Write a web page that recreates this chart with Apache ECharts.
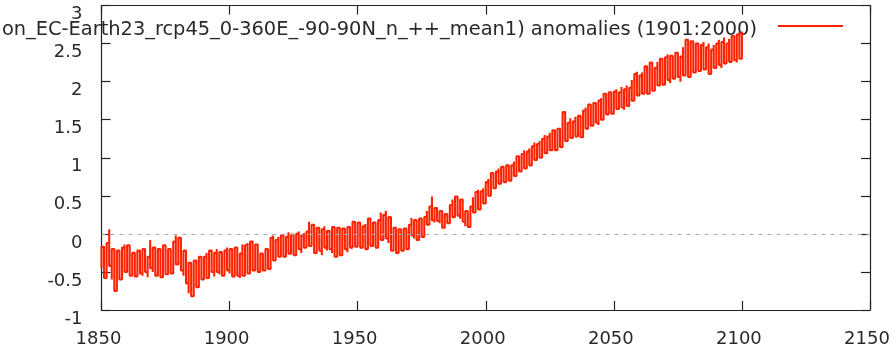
<!DOCTYPE html>
<html>
<head>
<meta charset="utf-8">
<script src="https://cdn.jsdelivr.net/npm/echarts@6/dist/echarts.min.js"></script>
<style>
  html, body { margin: 0; padding: 0; background: #fff; }
  #chart { width: 893px; height: 355px; }
</style>
</head>
<body>
<div id="chart"></div>
<script>
// annual anomaly envelope (upper / lower edge of the monthly values), 1850..2100
var startYear = 1850;
var xTicks = [1850, 1900, 1950, 2000, 2050, 2100, 2150];
var yTicks = [-1, -0.5, 0, 0.5, 1, 1.5, 2, 2.5, 3];
var seriesName = 'on_EC-Earth23_rcp45_0-360E_-90-90N_n_++_mean1) anomalies (1901:2000)';

var upper = [
  -0.17, -0.2, -0.12, 0.06, -0.2, -0.25, -0.22, -0.3, -0.18, -0.14,   // 1850s
  -0.15, -0.2, -0.25, -0.28, -0.22, -0.27, -0.2, -0.24, -0.3, -0.08,  // 1860s
  -0.18, -0.25, -0.2, -0.22, -0.15, -0.25, -0.2, -0.18, -0.1, -0.02,  // 1870s
  -0.05, -0.12, -0.22, -0.3, -0.38, -0.42, -0.35, -0.33, -0.3, -0.35, // 1880s
  -0.3, -0.25, -0.22, -0.2, -0.25, -0.2, -0.24, -0.28, -0.22, -0.18,  // 1890s
  -0.2, -0.25, -0.18, -0.22, -0.26, -0.14, -0.15, -0.12, -0.1, -0.12, // 1900s
  -0.14, -0.2, -0.26, -0.24, -0.2, -0.22, -0.05, -0.02, -0.08, -0.04, // 1910s
  -0.02, 0.0, -0.04, 0.02, -0.01, -0.03, 0.0, 0.03, -0.02, 0.01,      // 1920s
  0.03, 0.16, 0.12, 0.05, 0.08, 0.02, 0.06, 0.1, 0.04, 0.01,          // 1930s
  0.09, 0.05, 0.08, 0.02, 0.07, 0.04, 0.09, 0.06, 0.16, 0.12,         // 1940s
  0.15, 0.08, 0.1, 0.13, 0.2, 0.1, 0.15, 0.12, 0.18, 0.28,            // 1950s
  0.25, 0.3, 0.22, 0.05, 0.08, 0.03, 0.06, 0.02, 0.07, 0.04,          // 1960s
  0.12, 0.21, 0.18, 0.15, 0.2, 0.16, 0.22, 0.3, 0.36, 0.49,           // 1970s
  0.34, 0.32, 0.3, 0.22, 0.26, 0.28, 0.38, 0.45, 0.49, 0.47,          // 1980s
  0.45, 0.42, 0.3, 0.28, 0.36, 0.48, 0.55, 0.58, 0.56, 0.6,           // 1990s
  0.68, 0.72, 0.8, 0.78, 0.82, 0.86, 0.88, 0.85, 0.9, 0.92,           // 2000s
  0.9, 0.95, 1.02, 1.0, 1.05, 1.1, 1.08, 1.12, 1.15, 1.2,             // 2010s
  1.18, 1.22, 1.25, 1.3, 1.28, 1.33, 1.36, 1.32, 1.38, 1.4,           // 2020s
  1.6, 1.5, 1.46, 1.52, 1.48, 1.54, 1.55, 1.5, 1.62, 1.66,            // 2030s
  1.7, 1.64, 1.72, 1.68, 1.75, 1.78, 1.84, 1.8, 1.86, 1.82,           // 2040s
  1.87, 1.9, 1.86, 1.93, 1.9, 1.95, 1.92, 2.02, 2.1, 2.13,            // 2050s
  2.08, 2.12, 2.2, 2.15, 2.25, 2.22, 2.18, 2.26, 2.3, 2.28,           // 2060s
  2.32, 2.36, 2.34, 2.3, 2.38, 2.35, 2.33, 2.45, 2.55, 2.5,           // 2070s
  2.53, 2.46, 2.5, 2.44, 2.48, 2.52, 2.45, 2.5, 2.42, 2.48,           // 2080s
  2.5, 2.55, 2.52, 2.58, 2.5, 2.56, 2.6, 2.55, 2.62, 2.65,            // 2090s
  2.66                                                                // 2100
];
var lower = [
  -0.45, -0.58, -0.5, -0.42, -0.6, -0.75, -0.72, -0.6, -0.55, -0.5,
  -0.52, -0.55, -0.5, -0.56, -0.48, -0.52, -0.55, -0.5, -0.57, -0.45,
  -0.5, -0.55, -0.52, -0.57, -0.5, -0.53, -0.48, -0.52, -0.45, -0.4,
  -0.42, -0.48, -0.55, -0.65, -0.78, -0.82, -0.72, -0.7, -0.66, -0.6,
  -0.6, -0.58, -0.52, -0.5, -0.56, -0.5, -0.53, -0.55, -0.5, -0.48,
  -0.52, -0.56, -0.5, -0.55, -0.58, -0.55, -0.57, -0.52, -0.5, -0.48,
  -0.45, -0.5, -0.52, -0.48, -0.5, -0.46, -0.4, -0.35, -0.3, -0.3,
  -0.25, -0.3, -0.22, -0.26, -0.2, -0.28, -0.22, -0.2, -0.25, -0.18,
  -0.2, -0.16, -0.18, -0.25, -0.2, -0.22, -0.28, -0.18, -0.22, -0.2,
  -0.25, -0.3, -0.22, -0.28, -0.26, -0.2, -0.24, -0.18, -0.15, -0.17,
  -0.14, -0.18, -0.15, -0.2, -0.1, -0.16, -0.12, -0.18, -0.1, -0.08,
  -0.1, -0.06, -0.12, -0.22, -0.18, -0.25, -0.2, -0.22, -0.16, -0.2,
  -0.05, -0.02, -0.06, -0.08, -0.03, -0.04, 0.0, 0.12, 0.16, 0.18,
  0.15, 0.17, 0.14, 0.08, 0.12, 0.14, 0.18, 0.22, 0.2, 0.24,
  0.2, 0.16, 0.1, 0.09, 0.14, 0.28, 0.34, 0.32, 0.36, 0.4,
  0.46, 0.5, 0.55, 0.6, 0.64, 0.66, 0.7, 0.68, 0.72, 0.7,
  0.72, 0.76, 0.8, 0.82, 0.84, 0.86, 0.88, 0.9, 0.94, 0.97,
  0.98, 1.0, 1.02, 1.06, 1.08, 1.1, 1.12, 1.1, 1.15, 1.14,
  1.2, 1.22, 1.2, 1.26, 1.24, 1.28, 1.3, 1.27, 1.33, 1.38,
  1.4, 1.42, 1.44, 1.46, 1.43, 1.5, 1.55, 1.57, 1.6, 1.58,
  1.6, 1.64, 1.62, 1.66, 1.63, 1.68, 1.66, 1.75, 1.8, 1.82,
  1.8, 1.84, 1.86, 1.84, 1.9, 1.88, 1.92, 1.95, 1.98, 1.96,
  2.0, 2.02, 1.98, 2.04, 2.02, 2.06, 2.0, 2.08, 2.1, 2.06,
  2.08, 2.12, 2.1, 2.14, 2.12, 2.16, 2.14, 2.1, 2.15, 2.18,
  2.2, 2.22, 2.18, 2.24, 2.22, 2.26, 2.24, 2.28, 2.25, 2.3,
  2.32
];

var textColor = '#2a2a2a';
var frameColor = '#222';
var lineColor = '#ff2200';

// histeps-like path: a vertical stroke per year across its range, stepping year to year
var pathData = [];
for (var i = 0; i < upper.length; i++) {
  var yr = startYear + i;
  if (i % 2 == 0) {
    pathData.push([yr, lower[i]], [yr, upper[i]]);
  } else {
    pathData.push([yr, upper[i]], [yr, lower[i]]);
  }
}

var xMin = xTicks[0], xMax = xTicks[xTicks.length - 1], xStep = xTicks[1] - xTicks[0];
var yMin = yTicks[0], yMax = yTicks[yTicks.length - 1], yStep = yTicks[1] - yTicks[0];

function frameAxis(pos, isX, showLabel) {
  var ax = {
    type: 'value',
    position: pos,
    min: isX ? xMin : yMin,
    max: isX ? xMax : yMax,
    interval: isX ? xStep : yStep,
    axisLine: { show: true, onZero: false, lineStyle: { color: frameColor, width: 1.2 } },
    axisTick: { show: true, inside: true, length: 9, lineStyle: { color: frameColor, width: 1.2 } },
    splitLine: { show: false },
    axisLabel: {
      show: showLabel, color: textColor, fontSize: 18, fontFamily: 'DejaVu Sans',
      formatter: function (v) { return String(v); }
    }
  };
  if (showLabel && isX) {
    ax.axisLabel.margin = 20;
    ax.axisLabel.padding = [0, 6, 0, 0];
  }
  if (showLabel && !isX) {
    ax.axisLabel.margin = 19;
    ax.axisLabel.verticalAlign = 'top';
  }
  return ax;
}

var myChart = echarts.init(document.getElementById('chart'), null, { renderer: 'canvas' });
var option = {
  animation: false,
  backgroundColor: '#fff',
  grid: { left: 101.5, right: 23, top: 5.5, bottom: 45 },
  // legend key only; its label is placed as text just left of it (gnuplot style)
  legend: {
    data: [seriesName],
    right: 50,
    top: 25,
    padding: 0,
    align: 'right',
    icon: 'rect',
    itemWidth: 65,
    itemHeight: 2,
    selectedMode: false,
    formatter: function () { return ''; },
    textStyle: { fontSize: 1 }
  },
  graphic: [
    {
      type: 'text',
      right: 136,
      top: 20,
      silent: true,
      style: {
        text: seriesName,
        fill: textColor,
        font: '19.4px "DejaVu Sans"',
        textAlign: 'right'
      }
    }
  ],
  xAxis: [frameAxis('bottom', true, true), frameAxis('top', true, false)],
  yAxis: [frameAxis('left', false, true), frameAxis('right', false, false)],
  series: [
    {
      name: seriesName,
      type: 'line',
      xAxisIndex: 0,
      yAxisIndex: 0,
      data: pathData,
      step: 'end',
      showSymbol: false,
      symbol: 'none',
      itemStyle: { color: lineColor },
      lineStyle: { color: lineColor, width: 2.1 },
      markLine: {
        silent: true,
        symbol: ['none', 'none'],
        label: { show: false },
        lineStyle: { color: '#aaa', type: [4, 5], width: 1 },
        data: [{ yAxis: 0 }]
      }
    }
  ]
};
myChart.setOption(option);
</script>
</body>
</html>
